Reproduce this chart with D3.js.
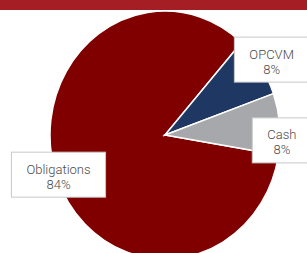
<!DOCTYPE html>
<html lang="fr">
<head>
    <meta charset="UTF-8">
    <script src="https://d3js.org/d3.v7.min.js"></script>
    <style>
        body {
            margin: 0;
            background: #fff;
            overflow: hidden;
        }
        .label {
            font-family: Roboto, Lato, sans-serif;
            font-weight: 300;
            font-size: 13px;
            fill: #4a4a4a;
        }
        .label-box {
            fill: #fff;
            stroke: #c8c8c8;
            stroke-width: 1px;
        }
    </style>
</head>

<body>
    <svg id="chart"></svg>

    <script>
        // données
        const categories = ["Obligations", "OPCVM", "Cash"];
        const values = [84, 8, 8];
        const colors = ["#800000", "#1f3763", "#a6a8ab"];

        // placement des étiquettes (rayon et décalage d'angle en degrés)
        const labelRadius = [113, 127, 117];
        const labelShift = [0, 1, 8];

        const width = 307;
        const height = 253;
        const cx = 165, cy = 135;
        const rx = 115, ry = 124;   // camembert légèrement étiré en hauteur
        const startAngle = 99.3 * Math.PI / 180;

        const svg = d3.select("#chart")
            .attr("width", width)
            .attr("height", height);

        const data = categories.map((c, i) => ({
            name: c, value: values[i], color: colors[i],
            lr: labelRadius[i], shift: labelShift[i] * Math.PI / 180
        }));

        const pie = d3.pie()
            .value(d => d.value)
            .sort(null)
            .startAngle(startAngle)
            .endAngle(startAngle + 2 * Math.PI);

        const arcs = pie(data);
        const arc = d3.arc().innerRadius(0).outerRadius(rx);

        const g = svg.append("g")
            .attr("transform", `translate(${cx},${cy}) scale(1,${ry / rx})`);

        g.selectAll("path")
            .data(arcs)
            .enter()
            .append("path")
            .attr("d", arc)
            .attr("fill", d => d.data.color)
            .attr("stroke", "#fff")
            .attr("stroke-width", 1.5)
            .attr("vector-effect", "non-scaling-stroke");

        // bandeau du haut
        svg.append("rect")
            .attr("x", 0)
            .attr("y", 0)
            .attr("width", width)
            .attr("height", 10)
            .attr("fill", "#a41e24");

        // étiquettes
        const labels = svg.selectAll(".lab")
            .data(arcs)
            .enter()
            .append("g")
            .attr("class", "lab")
            .attr("transform", d => {
                const a = (d.startAngle + d.endAngle) / 2 + d.data.shift;
                const x = cx + Math.sin(a) * d.data.lr;
                const y = cy - Math.cos(a) * d.data.lr * ry / rx;
                return `translate(${x},${y})`;
            });

        labels.append("rect").attr("class", "label-box");

        labels.append("text")
            .attr("class", "label")
            .attr("text-anchor", "middle")
            .attr("y", -2)
            .text(d => d.data.name);

        labels.append("text")
            .attr("class", "label")
            .attr("text-anchor", "middle")
            .attr("y", 13)
            .text(d => d.data.value + "%");

        labels.each(function() {
            const t = d3.select(this).select("text").node().getComputedTextLength();
            const w = t + 30, h = 45;
            d3.select(this).select("rect")
                .attr("x", -w / 2)
                .attr("y", -h / 2 - 1)
                .attr("width", w)
                .attr("height", h);
        });
    </script>
</body>
</html>
